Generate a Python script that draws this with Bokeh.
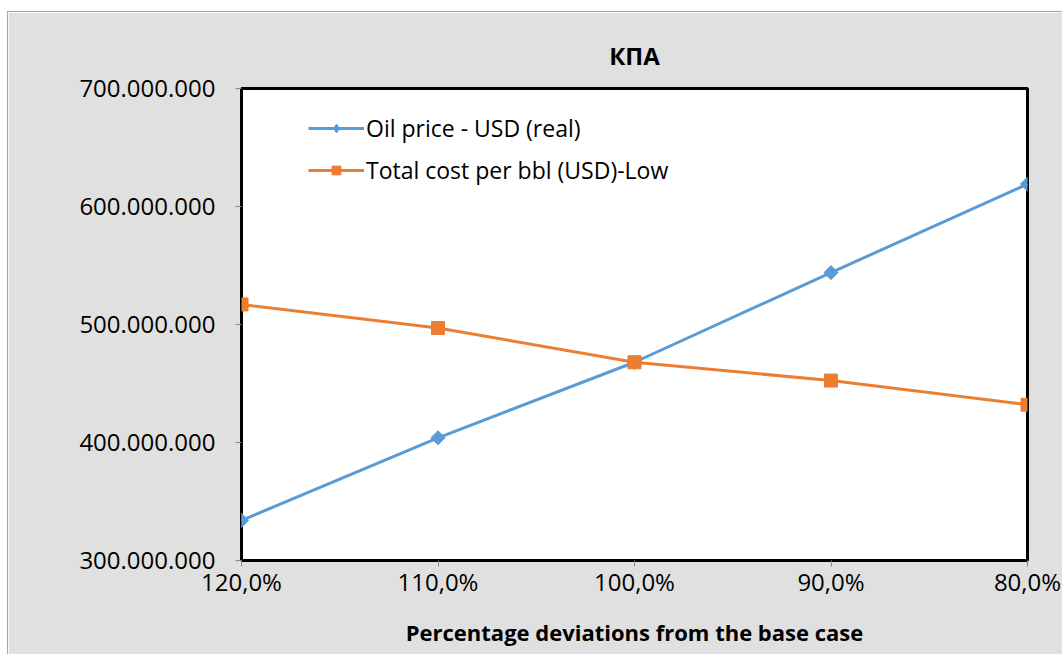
import math
from bokeh.plotting import figure
from bokeh.models import (Range1d, FixedTicker, CustomJSTickFormatter, Legend,
                          LegendItem, Title)
from bokeh.embed import file_html
from bokeh.resources import INLINE

# Sensitivity of the base case to percentage deviations
deviation_pct = [120, 110, 100, 90, 80]
deviation_labels = ["120,0%", "110,0%", "100,0%", "90,0%", "80,0%"]
oil_price_usd = [334e6, 404e6, 468e6, 544e6, 619e6]
total_cost_low = [517e6, 497e6, 468e6, 452.5e6, 432e6]
y_ticks = [300e6, 400e6, 500e6, 600e6, 700e6]

FONT = "Open Sans"
BLUE = "#5B9BD5"
ORANGE = "#ED7D31"
BG = "#e0e0e0"

xs = list(range(len(deviation_pct)))

p = figure(width=1054, height=642, output_backend="svg", toolbar_location=None,
           x_range=Range1d(0, len(xs) - 1), y_range=Range1d(y_ticks[0], y_ticks[-1]),
           min_border_left=233, min_border_right=35, min_border_top=76,
           min_border_bottom=94, margin=(12, 0, 0, 8),
           styles={"outline": "1px solid #a6a6a6"})
p.border_fill_color = BG
p.background_fill_color = "white"
p.outline_line_color = "black"
p.outline_line_width = 3
p.xgrid.grid_line_color = None
p.ygrid.grid_line_color = None

p.title = Title(text="КПА", align="center", text_font=FONT, text_font_size="24px",
                text_font_style="bold", text_color="black", standoff=33)

for ax in (p.xaxis[0], p.yaxis[0]):
    ax.axis_line_color = None
    ax.major_tick_line_color = "#888888"
    ax.major_tick_in = 0
    ax.major_tick_out = 6
    ax.minor_tick_line_color = None
    ax.major_label_text_font = FONT
    ax.major_label_text_font_size = "24px"
    ax.major_label_text_color = "black"

p.xaxis.ticker = FixedTicker(ticks=xs)
p.xaxis.major_label_overrides = {i: lab for i, lab in zip(xs, deviation_labels)}
p.xaxis.major_label_standoff = -2
p.xaxis.axis_label = "Percentage deviations from the base case"
p.xaxis.axis_label_text_font = FONT
p.xaxis.axis_label_text_font_size = "22px"
p.xaxis.axis_label_text_font_style = "bold"
p.xaxis.axis_label_text_color = "black"
p.xaxis.axis_label_standoff = 16

p.yaxis.ticker = FixedTicker(ticks=y_ticks)
p.yaxis.formatter = CustomJSTickFormatter(code="""
    return tick.toFixed(0).replace(/\\B(?=(\\d{3})+(?!\\d))/g, '.');
""")
p.yaxis.major_label_standoff = 20

l1 = p.line(xs, oil_price_usd, line_color=BLUE, line_width=3)
m1 = p.scatter(xs, oil_price_usd, marker="square", size=10, angle=math.pi / 4,
               fill_color=BLUE, line_color=BLUE)
l2 = p.line(xs, total_cost_low, line_color=ORANGE, line_width=3)
m2 = p.scatter(xs, total_cost_low, marker="square", size=13, fill_color=ORANGE,
               line_color=ORANGE)
# diamond swatch for the legend, sitting inside the first rotated-square marker
k1 = p.scatter(xs[:1], oil_price_usd[:1], marker="diamond", size=14,
               fill_color=BLUE, line_color=BLUE)

legend = Legend(items=[
    LegendItem(label="Oil price - USD (real)", renderers=[l1, k1]),
    LegendItem(label="Total cost per bbl (USD)-Low", renderers=[l2, m2]),
], location=(67, 374))
legend.background_fill_alpha = 0
legend.border_line_color = None
legend.label_text_font = FONT
legend.label_text_font_size = "23px"
legend.label_text_color = "black"
legend.glyph_width = 56
legend.glyph_height = 22
legend.label_height = 22
legend.spacing = 10
legend.padding = 0
legend.margin = 0
legend.label_standoff = 2
p.add_layout(legend)

open("out.html", "w").write(file_html(p, INLINE))
